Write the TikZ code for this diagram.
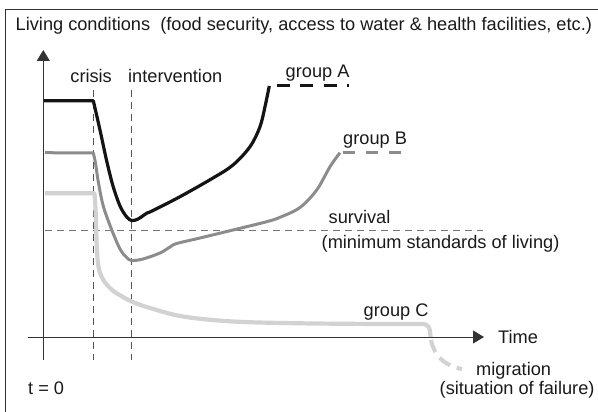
\documentclass[tikz,border=0pt]{standalone}
\usepackage{fontspec}
\setmainfont{Liberation Sans}
\usetikzlibrary{arrows.meta}
\definecolor{ink}{HTML}{1A1A1A}
\definecolor{axisgray}{HTML}{333333}
\definecolor{grpA}{HTML}{141414}
\definecolor{grpB}{HTML}{8C8C8C}
\definecolor{grpC}{HTML}{D2D2D2}
\definecolor{guide}{HTML}{555555}
\definecolor{survgray}{HTML}{777777}
\begin{document}
\begin{tikzpicture}[x=1pt,y=-1pt,
  lbl/.style={anchor=base west,inner sep=0pt,text=ink,font=\fontsize{18.2}{20}\selectfont},
  framestyle/.style={draw=axisgray,line width=1.2pt},
  axisline/.style={draw=axisgray,line width=0.9pt},
  axisarrow/.style={-{Triangle[length=11pt,width=13pt]}},
  guideline/.style={draw=guide,line width=0.7pt,dash pattern=on 7pt off 5pt},
  survline/.style={draw=survgray,line width=0.7pt,dash pattern=on 7pt off 5pt},
  curveA/.style={draw=grpA,line width=3.2pt,line join=round},
  curveB/.style={draw=grpB,line width=3pt,line join=round},
  curveC/.style={draw=grpC,line width=4.2pt,line join=round},
  dashA/.style={draw=grpA,line width=3.2pt,dash pattern=on 13pt off 10.5pt},
  dashB/.style={draw=grpB,line width=3.4pt,dash pattern=on 12pt off 11pt},
  dashC/.style={draw=grpC,line width=4pt,dash pattern=on 13pt off 7pt}
]
\useasboundingbox (0,0) rectangle (598,412);

% frame (open at right and bottom)
\draw[framestyle] (5.7,412) -- (5.7,9.3) -- (598,9.3);

% named points
\coordinate (yb) at (43.3,360);
\coordinate (yt) at (43.3,50);
\coordinate (xl) at (28.3,337);
\coordinate (xr) at (484,337);
\coordinate (crisisTop) at (93.3,90);
\coordinate (crisisBot) at (93.3,360);
\coordinate (intTop) at (131.3,90);
\coordinate (intBot) at (131.3,360);
\coordinate (survL) at (45,230);
\coordinate (survR) at (483,230);

% guide lines
\draw[guideline] (crisisTop) -- (crisisBot);
\draw[guideline] (intTop) -- (intBot);
\draw[survline] (survL) -- (survR);

% group C (light gray)
\draw[curveC] (45,193.3) -- plot[smooth,tension=0.55] coordinates {(94.5,193.3) (95.8,215) (96.7,245) (98.5,267) (103,279.5) (110,288) (116.7,293.3) (131.7,301.5) (150,308) (183,316.5) (233,321.5) (300,323.3) (380,324) (422,324)}
  .. controls (428,324) and (430,326) .. (430.5,337);
\draw[dashC] (431,340) .. controls (434,356) and (445,366) .. (462,369);

% group B (gray)
\draw[curveB] (45,152.7) -- plot[smooth,tension=0.55] coordinates {(93.3,153) (95.5,163) (98,180) (103,205) (111,228) (120,249) (126.7,257.5) (131.7,260.5) (143,259) (160,253) (170,247) (176.7,243.5) (200,238) (233,230) (266.7,221.7) (280,217.3) (300,207.5) (316.7,190) (330,166.7) (340,152.7)};
\draw[dashB] (343,152.7) -- (402,152.7);

% group A (black)
\draw[curveA] (43.3,100.7) -- plot[smooth,tension=0.55] coordinates {(93.3,100.7) (100,130) (106.7,161) (113,186) (120,206) (126.7,217) (131.7,220.5) (137,219.5) (142,216.5) (147,213) (152,211) (180,196.7) (213,178) (233,165) (250,146.7) (260,126.7) (265,106.7) (269.3,86)};
\draw[dashA] (276.7,85.7) -- (348.5,85.7);

% axes
\draw[axisline,axisarrow,fill=ink] (yb) -- (yt);
\draw[axisline,axisarrow,fill=ink] (xl) -- (xr);

% labels
\node[lbl] (title) at (15.5,30.5) {Living conditions\ \ (food security, access to water \& health facilities, etc.)};
\node[lbl] (crisisL) at (70.2,82.7) {crisis};
\node[lbl] (interventionL) at (128,82.7) {intervention};
\node[lbl] (groupA) at (285.5,78) {group A};
\node[lbl] (groupB) at (343,145) {group B};
\node[lbl] (survivalL) at (328.5,223.5) {survival};
\node[lbl] (minstdL) at (321.5,248.5) {(minimum standards of living)};
\node[lbl] (groupC) at (363.5,316) {group C};
\node[lbl] (timeL) at (498,343.3) {Time};
\node[lbl] (migrationL) at (476,375) {migration};
\node[lbl] (failureL) at (439.5,394) {(situation of failure)};
\node[lbl] (tzero) at (28,394) {t = 0};
\end{tikzpicture}
\end{document}
